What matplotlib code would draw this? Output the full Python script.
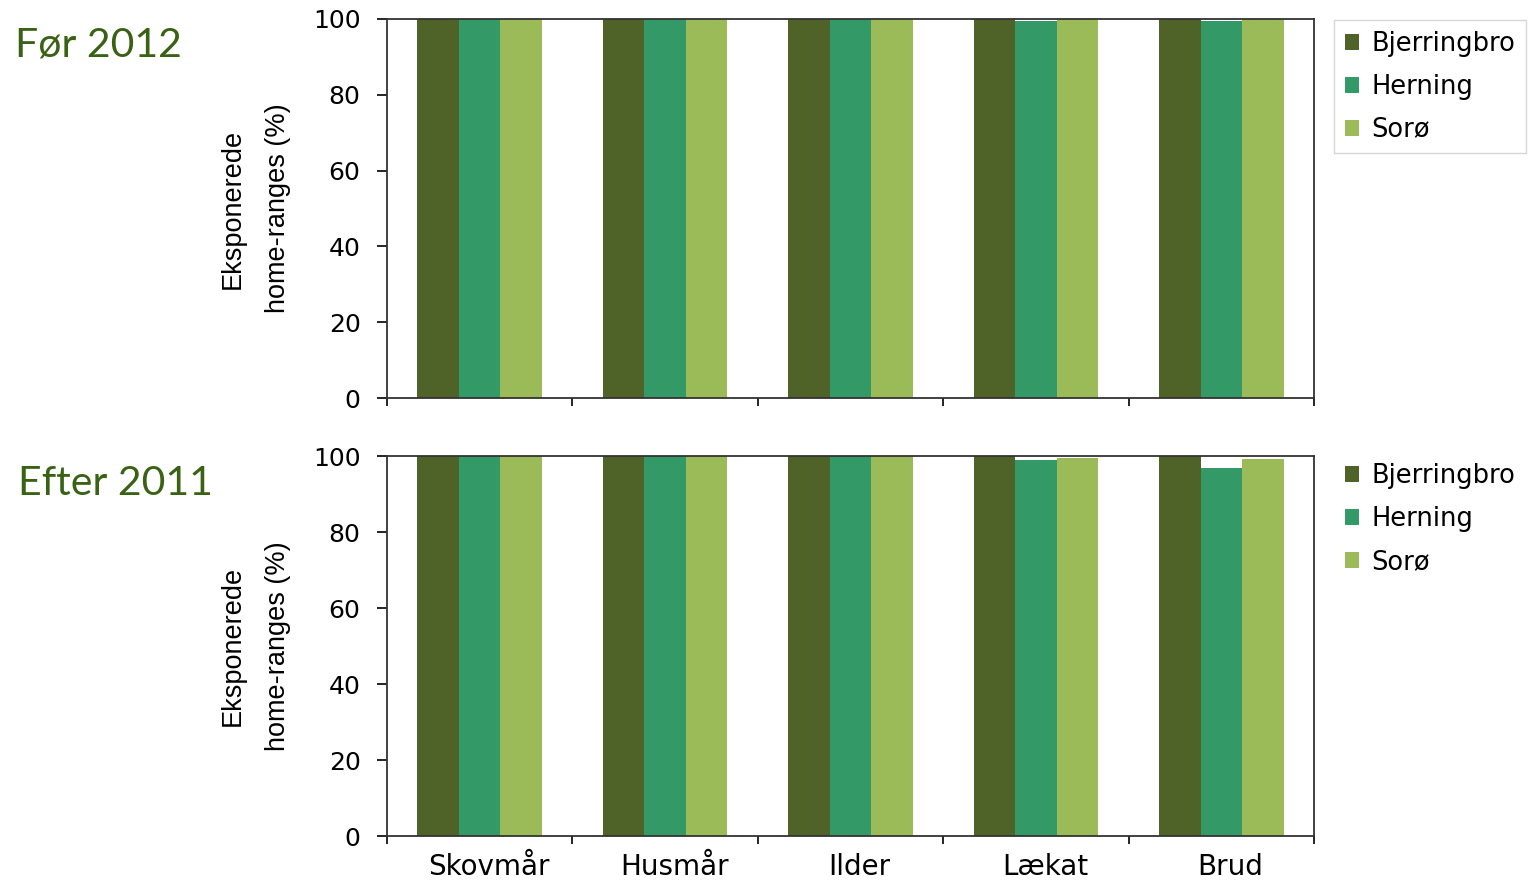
import matplotlib.pyplot as plt
import matplotlib.transforms as mtransforms
import numpy as np

plt.rcParams['font.family'] = ['Liberation Sans', 'DejaVu Sans']

# Data
arter = ['Skovmår', 'Husmår', 'Ilder', 'Lækat', 'Brud']
omraader = ['Bjerringbro', 'Herning', 'Sorø']
farver = ['#4F6228', '#339966', '#9BBB59']

foer_2012 = {
    'Bjerringbro': [100, 100, 100, 100, 100],
    'Herning': [100, 100, 100, 99.6, 99.6],
    'Sorø': [100, 100, 100, 100, 100],
}
efter_2011 = {
    'Bjerringbro': [100, 100, 100, 100, 100],
    'Herning': [100, 100, 100, 99.0, 96.8],
    'Sorø': [100, 100, 100, 99.6, 99.3],
}

W, H = 1534, 880
fig = plt.figure(figsize=(W / 100, H / 100), dpi=100)

ax1 = fig.add_axes([387 / W, 1 - 398 / H, 927 / W, 379 / H])
ax2 = fig.add_axes([387 / W, 1 - 836 / H, 927 / W, 380 / H])

x = np.arange(len(arter))
bw = 0.224

for ax, data, legend_frame, legend_y in [(ax1, foer_2012, True, 1.018),
                                           (ax2, efter_2011, False, 1.03)]:
    for i, omr in enumerate(omraader):
        ax.bar(x + (i - 1) * bw, data[omr], width=bw, color=farver[i],
               label=omr, linewidth=0)
    ax.set_xlim(-0.5, len(arter) - 0.5)
    ax.set_ylim(0, 100)
    ax.set_yticks(np.arange(0, 101, 20))
    ax.tick_params(axis='y', direction='out', length=7, width=1.2, pad=12)
    for lbl in ax.get_yticklabels():
        lbl.set_family('DejaVu Sans')
        lbl.set_fontsize(18)
    ax.set_xticks(np.arange(-0.5, len(arter), 1))
    ax.set_xticklabels([])
    ax.tick_params(axis='x', direction='out', length=6, width=1.2)
    for s in ax.spines.values():
        s.set_linewidth(1.3)
        s.set_color('#333333')
    ax.set_ylabel('Eksponerede\nhome-ranges (%)', fontsize=19.5,
                  linespacing=1.95)
    ax.yaxis.set_label_coords(-0.104, 0.5)
    leg = ax.legend(loc='upper left', bbox_to_anchor=(1.013, legend_y),
                    prop={'family': 'DejaVu Sans', 'size': 18.5},
                    frameon=legend_frame, fancybox=False,
                    handlelength=0.58, handleheight=0.58, handletextpad=0.45,
                    labelspacing=0.66, borderpad=0.42, borderaxespad=0.3)
    if legend_frame:
        leg.get_frame().set_edgecolor('#cccccc')
        leg.get_frame().set_linewidth(1.0)

ax2.set_xticks(x, minor=True)
ax2.set_xticklabels(arter, minor=True, fontsize=20, family='DejaVu Sans')
ax2.tick_params(axis='x', which='minor', length=0, pad=12)
shift = mtransforms.ScaledTranslation(9 / 100, 0, fig.dpi_scale_trans)
for lbl in ax2.get_xticklabels(minor=True):
    lbl.set_transform(lbl.get_transform() + shift)

fig.text(15 / W, 1 - 57 / H, 'Før 2012', fontsize=29.5, color='#3A6215',
         family=['Lato', 'DejaVu Sans'], va='baseline')
fig.text(18 / W, 1 - 495 / H, 'Efter 2011', fontsize=29.5, color='#3A6215',
         family=['Lato', 'DejaVu Sans'], va='baseline')

fig.savefig('out.png', dpi=100)
